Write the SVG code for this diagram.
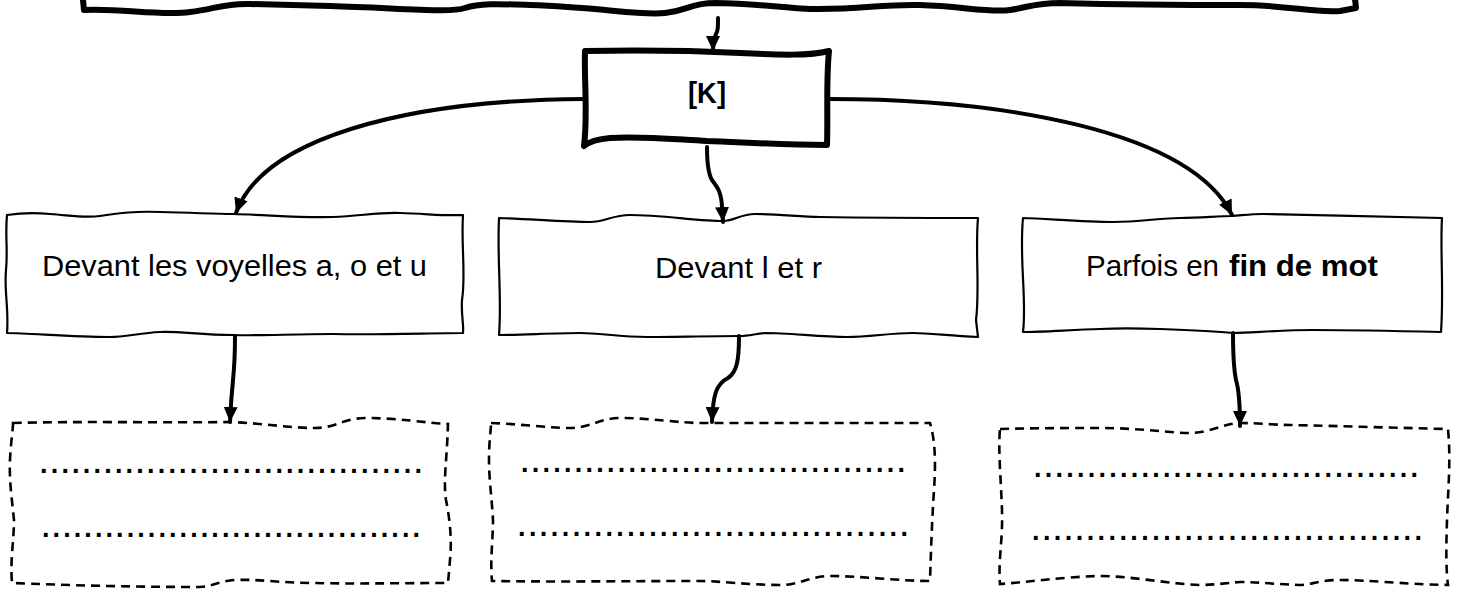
<svg xmlns="http://www.w3.org/2000/svg" width="1457" height="589" viewBox="0 0 1457 589">
<style>
.thick{fill:#fff;stroke:#000;stroke-width:6;stroke-linejoin:round}
.thin{fill:#fff;stroke:#000;stroke-width:2.2;stroke-linejoin:round}
.dash{fill:#fff;stroke:#000;stroke-width:2.6;stroke-dasharray:9 6}
.conn{fill:none;stroke:#000;stroke-width:4;stroke-linecap:round}
.lbl{font-family:"Liberation Sans",Arial,sans-serif;font-size:30px;fill:#000}
.b{font-weight:bold}
.dots{font-family:"Liberation Sans",Arial,sans-serif;font-size:27px;font-weight:bold;fill:#000}
</style>
<defs>
<marker id="ah" markerUnits="userSpaceOnUse" markerWidth="16" markerHeight="14" refX="15" refY="7" orient="auto">
<path d="M0,0 L15,7 L0,14 z" fill="#000"/>
</marker>
</defs>
<rect width="1457" height="589" fill="#fff"/>

<g id="top-box">
<path class="thick" d="M82,-10 L84,10 C120,8 160,16 190,12 C215,9 225,3 250,4 L330,6 C400,8 450,13 465,8 C480,3 500,4 530,5 C600,7 640,16 665,13 C690,10 690,3 715,3 C760,4 790,8 810,9 C860,10 880,4 920,5 C960,6 990,13 1010,10 C1030,7 1035,3 1060,3 C1100,4 1180,5 1240,5 C1290,5 1310,13 1340,11 L1356,8 L1354,-10 Z"/>
</g>

<g id="node-k">
<path class="thick" d="M585,51 C640,50 700,51 740,53 C780,55 810,56 829,51 C826,80 828,115 827,145 C780,145 740,142 707,141 C670,139 640,136 610,138 C598,139 590,141 584,146 C588,115 584,80 585,51 Z"/>
<text class="lbl b" x="688" y="103" font-size="30" textLength="38" lengthAdjust="spacingAndGlyphs">[K]</text>
</g>

<g id="node-voyelles">
<path class="thin" d="M7,215 C20,213 30,212 50,214 C75,216 85,218 100,216 C120,213 135,211 160,212 C200,213 215,214 233,214 C270,215 300,218 333,217 C360,216 380,212 400,213 C430,214 445,216 463,215 C461,245 466,275 462,300 C461,315 464,325 463,333 C430,333 380,335 333,334 C290,334 260,336 233,335 C200,335 180,331 160,332 C140,333 125,337 110,337 C70,337 30,333 7,333 C9,310 4,290 6,270 C8,250 5,235 7,215 Z"/>
<text class="lbl" x="42" y="276" textLength="385" lengthAdjust="spacingAndGlyphs">Devant les voyelles a, o et u</text>
</g>

<g id="node-l-r">
<path class="thin" d="M499,218 C530,219 565,222 590,222 C605,222 612,215 630,215 C660,215 700,221 723,221 C735,221 740,214 755,214 C780,214 800,217 820,217 C880,218 930,218 978,218 C975,250 980,290 976,320 L978,337 C950,336 930,333 913,333 C890,333 870,337 847,337 C820,337 790,333 765,333 C755,334 748,336 740,336 C710,336 670,337 647,337 C620,337 600,333 580,333 C555,333 520,335 499,335 C502,300 497,260 499,218 Z"/>
<text class="lbl" x="655" y="278" textLength="167" lengthAdjust="spacingAndGlyphs">Devant l et r</text>
</g>

<g id="node-fin">
<path class="thin" d="M1023,218 C1050,219 1085,222 1113,222 C1140,222 1160,218 1180,218 C1200,218 1218,216 1232,216 C1245,215 1252,214 1263,214 C1320,215 1390,217 1442,218 C1440,250 1444,290 1441,332 C1400,331 1350,330 1313,330 C1280,330 1250,333 1233,333 C1215,331 1190,330 1160,329 C1130,328 1120,328 1100,329 C1070,330 1040,332 1023,332 C1027,300 1019,260 1023,218 Z"/>
<text class="lbl" x="1086" y="276" textLength="133" lengthAdjust="spacingAndGlyphs">Parfois en</text>
<text class="lbl b" x="1229" y="276" textLength="149" lengthAdjust="spacingAndGlyphs">fin de mot</text>
</g>

<g id="answer-voyelles">
<path class="dash" d="M13,423 C80,421 170,423 230,422 C260,423 290,428 315,428 C335,428 345,418 365,418 C400,418 425,423 448,424 C447,460 443,480 446,500 C450,520 452,540 450,560 L448,583 C400,583 350,584 315,583 C280,583 260,579 235,580 C220,581 210,587 200,587 C130,587 60,585 12,583 C10,560 14,540 14,520 C12,500 9,480 10,460 C11,440 13,430 13,423 Z"/>
<text class="dots" x="40" y="473" textLength="382" lengthAdjust="spacing">....................................</text>
<text class="dots" x="42" y="537" textLength="378" lengthAdjust="spacing">....................................</text>
</g>

<g id="answer-l-r">
<path class="dash" d="M491,423 C520,424 550,428 570,428 C590,428 600,418 620,418 C650,418 680,423 700,423 C780,423 860,423 930,423 C935,440 936,460 934,490 C932,520 931,550 930,581 C900,581 860,576 830,576 C810,576 800,585 780,585 C750,585 720,581 700,581 C630,581 560,582 492,581 C490,560 493,540 493,520 C492,500 489,480 489,460 C489,440 491,430 491,423 Z"/>
<text class="dots" x="521" y="472" textLength="384" lengthAdjust="spacing">....................................</text>
<text class="dots" x="518" y="536" textLength="390" lengthAdjust="spacing">....................................</text>
</g>

<g id="answer-fin">
<path class="dash" d="M1000,429 C1040,428 1080,428 1100,428 C1140,428 1170,433 1190,433 C1210,433 1225,423 1240,423 C1260,423 1275,425 1290,425 C1340,426 1400,428 1448,429 C1451,460 1448,490 1447,520 C1446,550 1446,570 1448,585 C1400,584 1370,580 1340,580 C1320,580 1310,585 1300,585 C1270,584 1260,582 1240,582 C1225,583 1215,585 1200,585 C1170,584 1130,576 1100,576 C1060,577 1030,582 1000,584 C998,560 1003,540 1002,510 C1001,480 998,450 1000,429 Z"/>
<text class="dots" x="1034" y="477" textLength="384" lengthAdjust="spacing">....................................</text>
<text class="dots" x="1032" y="540" textLength="390" lengthAdjust="spacing">....................................</text>
</g>

<g id="connectors">
<path class="conn" marker-end="url(#ah)" d="M718,18 C718,28 718,30 716,34 C714,38 713,42 713,51"/>
<path class="conn" marker-end="url(#ah)" d="M585,99 C400,100 262,140 236,213"/>
<path class="conn" marker-end="url(#ah)" d="M829,99 C1000,99 1190,130 1232,215"/>
<path class="conn" marker-end="url(#ah)" d="M707,147 C707,165 709,175 712,180 C718,188 721,192 722,206 L723,222"/>
<path class="conn" marker-end="url(#ah)" d="M235,336 C235,360 234,370 233,380 C232,390 231,400 230,422"/>
<path class="conn" marker-end="url(#ah)" d="M739,336 C739,360 737,372 728,378 C716,384 713,395 712,422"/>
<path class="conn" marker-end="url(#ah)" d="M1233,333 C1233,360 1234,370 1236,380 C1239,390 1240,400 1240,426"/>
</g>
</svg>
